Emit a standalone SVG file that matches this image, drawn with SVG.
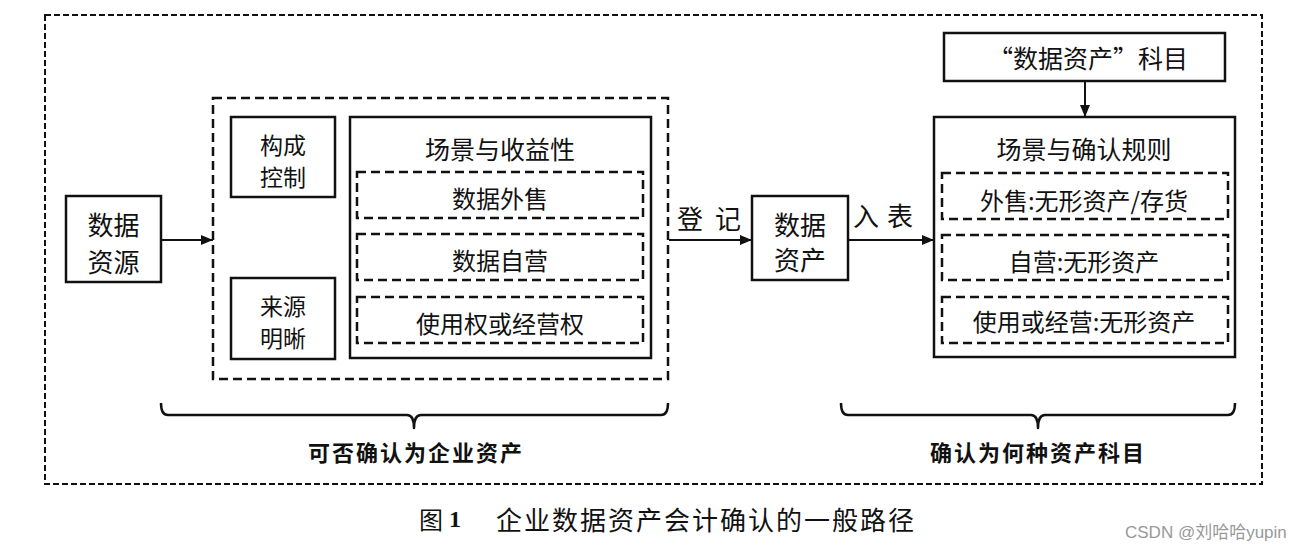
<svg xmlns="http://www.w3.org/2000/svg" width="1316" height="550" viewBox="0 0 1316 550">
<defs>
<style>
.t{font-family:"Noto Sans CJK SC","Noto Sans",sans-serif;fill:#111;text-anchor:middle;dominant-baseline:central}
.box{fill:none;stroke:#111;stroke-width:2.5}
.dash{fill:none;stroke:#111;stroke-width:2.5;stroke-dasharray:9 5}
.line{fill:none;stroke:#111;stroke-width:2}
.brace{fill:none;stroke:#111;stroke-width:2.5;stroke-linejoin:round}
.b{font-weight:bold}
</style>
<marker id="ah" viewBox="0 0 12 10" refX="12" refY="5" markerWidth="12" markerHeight="10" markerUnits="userSpaceOnUse" orient="auto">
<path d="M0,0 L12,5 L0,10 Z" fill="#111"/>
</marker>
</defs>
<rect width="1316" height="550" fill="#fff"/>
<rect id="frame" x="45" y="15" width="1217" height="469" fill="none" stroke="#111" stroke-width="2" stroke-dasharray="6 3"/>

<g id="data-resource">
<rect class="box" x="66" y="196" width="95" height="86"/>
<text class="t" x="113.5" y="223" font-size="26">数据</text>
<text class="t" x="113.5" y="260" font-size="26">资源</text>
</g>

<g id="asset-criteria">
<rect class="dash" x="213" y="98" width="455" height="281"/>
<g id="control">
<rect class="box" x="231" y="117" width="104" height="80"/>
<text class="t" x="283" y="143.5" font-size="23">构成</text>
<text class="t" x="283" y="175.5" font-size="23">控制</text>
</g>
<g id="source">
<rect class="box" x="231" y="278" width="104" height="81"/>
<text class="t" x="283" y="304.5" font-size="23">来源</text>
<text class="t" x="283" y="336.5" font-size="23">明晰</text>
</g>
<g id="scenario-benefit">
<rect class="box" x="350" y="117" width="301" height="241"/>
<text class="t" x="500" y="148" font-size="25">场景与收益性</text>
<rect class="dash" x="357" y="172" width="286" height="46"/>
<text class="t" x="500" y="197" font-size="24">数据外售</text>
<rect class="dash" x="357" y="234" width="286" height="46"/>
<text class="t" x="500" y="259" font-size="24">数据自营</text>
<rect class="dash" x="357" y="297" width="286" height="46"/>
<text class="t" x="500" y="322" font-size="24">使用权或经营权</text>
</g>
</g>

<g id="data-asset">
<rect class="box" x="752" y="196" width="96" height="84"/>
<text class="t" x="800" y="223" font-size="26">数据</text>
<text class="t" x="800" y="258" font-size="26">资产</text>
</g>

<g id="subject">
<rect class="box" x="944" y="33" width="281" height="48"/>
<text class="t" x="1088" y="57" font-size="25">“数据资产”科目</text>
</g>

<g id="scenario-rules">
<rect class="box" x="934" y="117" width="301" height="240"/>
<text class="t" x="1084" y="148" font-size="25">场景与确认规则</text>
<rect class="dash" x="942" y="173" width="286" height="46"/>
<text class="t" x="1084" y="199" font-size="24">外售:无形资产/存货</text>
<rect class="dash" x="942" y="235" width="286" height="45"/>
<text class="t" x="1084" y="260" font-size="24">自营:无形资产</text>
<rect class="dash" x="942" y="297" width="286" height="46"/>
<text class="t" x="1084" y="320" font-size="24">使用或经营:无形资产</text>
</g>

<g id="connectors">
<line class="line" x1="161" y1="240" x2="213" y2="240" marker-end="url(#ah)"/>
<line class="line" x1="669" y1="240" x2="752" y2="240" marker-end="url(#ah)"/>
<line class="line" x1="848" y1="240" x2="934" y2="240" marker-end="url(#ah)"/>
<line class="line" x1="1085" y1="81" x2="1085" y2="117" marker-end="url(#ah)"/>
<text class="t" x="677" y="217" font-size="26" letter-spacing="12" style="text-anchor:start">登记</text>
<text class="t" x="853" y="214" font-size="26" letter-spacing="8" style="text-anchor:start">入表</text>
</g>

<g id="brace-left">
<path class="brace" d="M161,403 Q161,415 168,415 L407,415 Q414,415 414,428 Q414,415 421,415 L661,415 Q668,415 668,403"/>
<text class="t b" x="416" y="451" font-size="22" letter-spacing="2">可否确认为企业资产</text>
</g>
<g id="brace-right">
<path class="brace" d="M841,403 Q841,415 848,415 L1031,415 Q1038,415 1038,428 Q1038,415 1045,415 L1228,415 Q1235,415 1235,403"/>
<text class="t b" x="1038" y="451" font-size="22" letter-spacing="2">确认为何种资产科目</text>
</g>

<g id="caption">
<text class="t" x="419" y="518" font-size="24" style="text-anchor:start">图</text>
<text x="449" y="527" font-size="24" font-family="Liberation Serif,serif" font-weight="bold" fill="#111">1</text>
<text class="t" x="496" y="518" font-size="26" letter-spacing="2" style="text-anchor:start">企业数据资产会计确认的一般路径</text>
</g>
<text x="1125" y="538" font-size="17" font-family="Liberation Sans,Noto Sans CJK SC,sans-serif" fill="#999">CSDN @刘哈哈yupin</text>
</svg>
